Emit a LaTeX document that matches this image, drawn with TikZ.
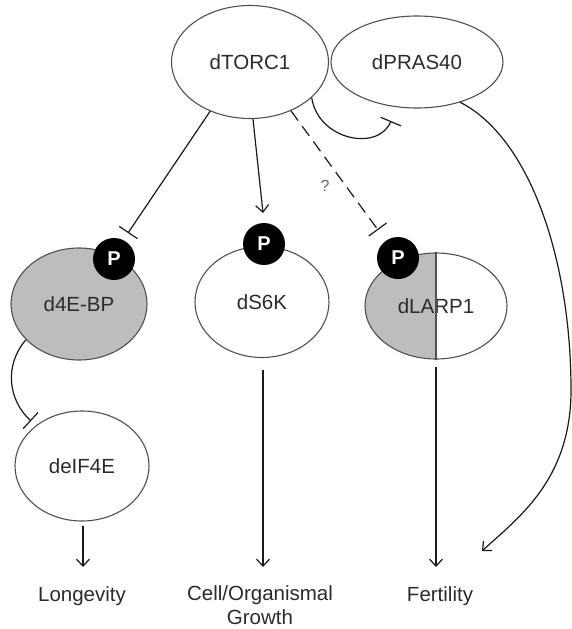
\documentclass[tikz,border=0pt]{standalone}
\usepackage{fontspec}
\setmainfont{Liberation Sans}
\usetikzlibrary{shapes.geometric,arrows.meta}
\definecolor{txt}{HTML}{2B2B2B}
\definecolor{edge}{HTML}{505050}
\definecolor{ln}{HTML}{1A1A1A}
\definecolor{fillg}{HTML}{BDBDBD}
\begin{document}
\begin{tikzpicture}[x=1pt,y=-1pt,
  every node/.style={font=\fontsize{20.5}{24}\selectfont, text=txt},
  mol/.style={ellipse, draw=edge, line width=1.1pt, inner sep=0pt},
  phos/.style={circle, fill=black, minimum size=42pt, inner sep=0pt,
    text=white, font=\fontsize{20}{20}\selectfont\bfseries},
  act/.style={line width=1.2pt, draw=ln,
    -{Straight Barb[length=7pt,width=13pt,line width=1.2pt]}},
  inh/.style={line width=1.2pt, draw=ln, -{Bar[width=22pt,line width=1.2pt]}},
  outcome/.style={anchor=base, align=center, inner sep=0pt}
]
\useasboundingbox (0,0) rectangle (571,629);

% complexes and proteins
\node[mol, minimum width=157pt, minimum height=113pt] (torc) at (250,62) {dTORC1};
\node[mol, minimum width=172pt, minimum height=92pt] (pras) at (417,62) {dPRAS40};
\node[mol, fill=fillg, minimum width=136pt, minimum height=112pt] (ebp) at (79,304) {d4E-BP};
\node[mol, minimum width=134pt, minimum height=111pt] (s6k) at (262,302) {dS6K};
\node[mol, minimum width=142pt, minimum height=106pt,
  path picture={\fill[fillg] (path picture bounding box.north west)
    rectangle (path picture bounding box.south);}] (larp) at (436,306) {dLARP1};
\draw[edge, line width=1.1pt] (larp.north) -- (larp.south);
\node[mol, minimum width=134pt, minimum height=110pt] (eif) at (82,466) {deIF4E};

% phosphorylation marks
\node[phos] (pebp) at (114,259) {P};
\node[phos] (ps6k) at (264,244) {P};
\node[phos] (plarp) at (398,258) {P};

% outcomes (base = baseline of the last line)
\node[outcome] (longev) at (82,601) {Longevity};
\node[outcome] (growth) at (260,624) {Cell/Organismal\\Growth};
\node[outcome] (fert) at (440,601) {Fertility};

% connector ends
\coordinate (tebp) at (128,233);
\coordinate (ts6k) at (263,213);
\coordinate (tlarp) at (378,230);
\coordinate (tpras) at (391,121);
\coordinate (teif) at (31,421);
\coordinate (bend) at (571,390);
\coordinate (tfert) at (482,551);
\coordinate (elong) at (83,567);
\coordinate (egrowth) at (263,567);
\coordinate (efert) at (436,567);

% regulation by dTORC1
\draw[inh] (torc.231) -- (tebp);
\draw[act] (torc.273) -- (ts6k);
\draw[inh, dash pattern=on 12pt off 7pt] (torc.310) -- (tlarp);
\node[text=gray!80!black, font=\fontsize{16}{16}\selectfont] (unknown) at (325,186) {?};
\draw[inh] (torc.330) .. controls (318,140) and (378,152) .. (tpras);

% downstream effects
\draw[inh] (ebp.214) .. controls (4,365) and (8,400) .. (teif);
\draw[act, shorten <=4pt] (eif.south -| elong) -- (elong);
\draw[act, shorten <=12pt] (s6k.south -| egrowth) -- (egrowth);
\draw[act, shorten <=7pt] (larp.south -| efert) -- (efert);
\draw[act] (pras.-43) .. controls (530,138) and (571,260) .. (bend)
  .. controls (571,480) and (518,518) .. (tfert);
\end{tikzpicture}
\end{document}
